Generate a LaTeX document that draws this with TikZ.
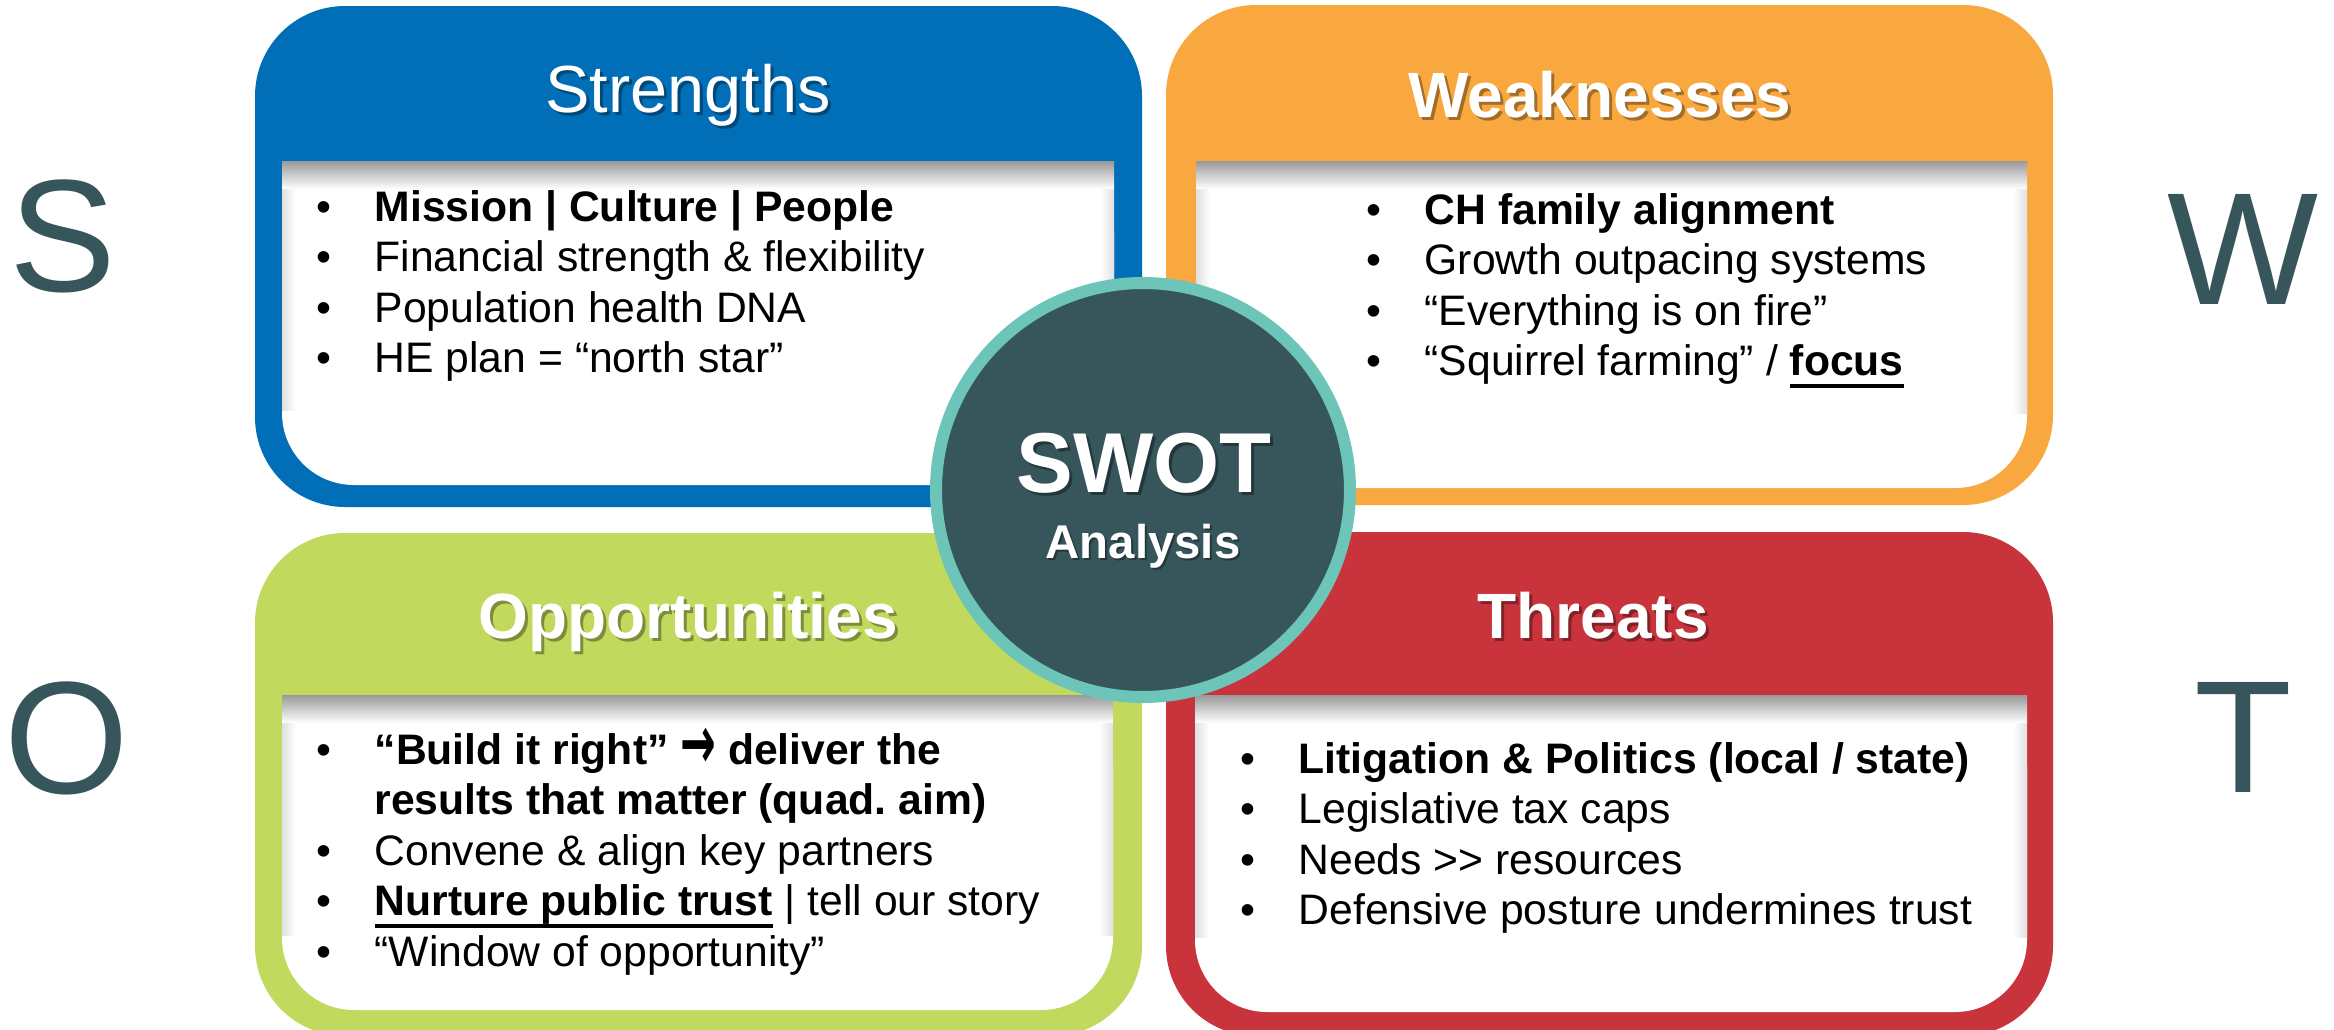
\documentclass[tikz,border=0pt]{standalone}
\usepackage{fontspec}
\usepackage{graphicx}
\setmainfont{Liberation Sans}
\newfontfamily\arrowfont{DejaVu Sans}
\definecolor{sblue}{HTML}{006FB7}
\definecolor{sorange}{HTML}{F8A83E}
\definecolor{sgreen}{HTML}{C1D95C}
\definecolor{sred}{HTML}{C8333C}
\definecolor{steal}{HTML}{36565C}
\definecolor{sring}{HTML}{6CC5B8}
\newcommand\myul[1]{\setbox0\hbox{#1}\leavevmode\rlap{\rule[-3.6pt]{\wd0}{1.2pt}}\box0\relax}
\begin{document}
\frenchspacing
\begin{tikzpicture}[x=0.3pt,y=-0.3pt,
  outerbox/.style={rounded corners=27pt},
  innerbox/.style={fill=white,rounded corners=21.6pt},
  btitle/.style={font=\fontsize{19.2}{22}\selectfont\bfseries,text=white,inner sep=0,anchor=base},
  rtitle/.style={font=\fontsize{20}{22}\selectfont,text=white,inner sep=0,anchor=base},
  shadowtxt/.style={text=black,opacity=0.35},
  blist/.style={inner sep=0,anchor=base west,font=\fontsize{12.8}{15.15}\selectfont},
  bigletter/.style={font=\fontsize{48}{50}\selectfont,text=steal,inner sep=0,anchor=base}]
\useasboundingbox (0,0) rectangle (2334,1029);
\clip (0,0) rectangle (2334,1029);
\fill[white] (0,0) rectangle (2334,1029);

% outer boxes
\fill[sblue,outerbox] (255,6) rectangle (1142,507);
\fill[sorange,outerbox] (1166,5) rectangle (2053,505);
\fill[sgreen,outerbox] (255,533) rectangle (1142,1036);
\fill[sred,outerbox] (1166,532) rectangle (2053,1036);

% inner white panels
\foreach \xa/\ya/\xb/\yb in {282/161/1114/485, 1196/161/2027/488, 282/695/1113/1010, 1195/695/2027/1012}{
  \fill[innerbox] (\xa,\ya) rectangle (\xb,\yb);
  \fill[white] (\xa,\ya) rectangle (\xb,\ya+120);
  \shade[top color=black!40,bottom color=white] (\xa,\ya) rectangle (\xb,\ya+28);
  \shade[left color=black!12,right color=white] (\xa,\ya+28) rectangle (\xa+14,\yb-75);
  \shade[right color=black!12,left color=white] (\xb-14,\ya+28) rectangle (\xb,\yb-75);
}

% titles
\node[rtitle,shadowtxt] (sT0) at (691,115) {Strengths};
\node[rtitle] (sT) at (688,112) {Strengths};
\node[btitle,shadowtxt] (wT0) at (1603,120) {Weaknesses};
\node[btitle] (wT) at (1600,117) {Weaknesses};
\node[btitle,shadowtxt] (oT0) at (691,641) {Opportunities};
\node[btitle] (oT) at (688,638) {Opportunities};
\node[btitle,shadowtxt] (tT0) at (1596,641) {Threats};
\node[btitle] (tT) at (1593,638) {Threats};

% lists
\node[blist] (sL) at (316,221) {\begin{tabular}[t]{@{}p{17.4pt}@{}l@{}}
• & \textbf{Mission | Culture | People}\\
• & Financial strength \& flexibility\\
• & Population health DNA\\
• & HE plan = “north star”
\end{tabular}};
\node[blist] (wL) at (1366,224) {\begin{tabular}[t]{@{}p{17.4pt}@{}l@{}}
• & \textbf{CH family alignment}\\
• & Growth outpacing systems\\
• & “Everything is on fire”\\
• & “Squirrel farming” / \myul{\textbf{focus}}
\end{tabular}};
\node[blist] (oL) at (316,764) {\begin{tabular}[t]{@{}p{17.4pt}@{}l@{}}
• & \textbf{“Build it right” \raisebox{-1.2pt}{\scalebox{1.0}[1.75]{\arrowfont\bfseries →}} deliver the}\\
  & \textbf{results that matter (quad. aim)}\\
• & Convene \& align key partners\\
• & \myul{\textbf{Nurture public trust}} | tell our story\\
• & “Window of opportunity”
\end{tabular}};
\node[blist] (tL) at (1240,773) {\begin{tabular}[t]{@{}p{17.4pt}@{}l@{}}
• & \textbf{Litigation \& Politics (local / state)}\\
• & Legislative tax caps\\
• & Needs >\kern0pt> resources\\
• & Defensive posture undermines trust
\end{tabular}};

% big letters
\node[bigletter] (bS) at (63,291) {S};
\node[bigletter] (bW) at (2243,304) {W};
\node[bigletter] (bO) at (67,793) {O};
\node[bigletter] (bT) at (2243,792) {T};

% centre circle
\node[circle,fill=steal,draw=sring,line width=3.6pt,minimum size=124.2pt,inner sep=0] (c) at (1143,490) {};
\node[font=\fontsize{25.5}{28}\selectfont\bfseries,inner sep=0,anchor=base,shadowtxt] (swot0) at (1147,495) {SWOT};
\node[font=\fontsize{25.5}{28}\selectfont\bfseries,text=white,inner sep=0,anchor=base] (swot) at (1144,492) {SWOT};
\node[font=\fontsize{14.2}{16}\selectfont\bfseries,inner sep=0,anchor=base,shadowtxt] (ana0) at (1145,560) {Analysis};
\node[font=\fontsize{14.2}{16}\selectfont\bfseries,text=white,inner sep=0,anchor=base] (ana) at (1143,558) {Analysis};
\end{tikzpicture}
\end{document}
